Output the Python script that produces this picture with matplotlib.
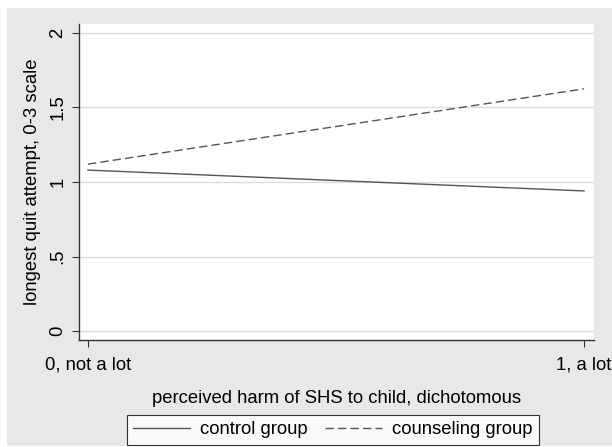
import matplotlib
matplotlib.use("Agg")
import matplotlib.pyplot as plt

plt.rcParams['font.family'] = ['Liberation Sans', 'DejaVu Sans']

# data
x_vals = [0, 1]
x_ticklabels = ["0, not a lot", "1, a lot"]
control_group = [1.08, 0.94]
counseling_group = [1.12, 1.625]
y_ticks = [0, 0.5, 1, 1.5, 2]
y_ticklabels = ["0", ".5", "1", "1.5", "2"]

fs = 13.3

fig = plt.figure(figsize=(6.12, 4.47), dpi=100)
fig.patch.set_facecolor('white')
# gray stata-style background panel
bg = plt.Rectangle((7 / 612, 1 - 446 / 447), 605 / 612, 438 / 447,
                   transform=fig.transFigure, facecolor='#e8e8ea',
                   edgecolor='none', zorder=-10)
fig.patches.append(bg)

ax = fig.add_axes([79 / 612, 1 - 340 / 447, 515 / 612, 316 / 447])
ax.set_facecolor('white')

ax.plot(x_vals, control_group, color='#555555', lw=1.0, label='control group')
ax.plot(x_vals, counseling_group, color='#555555', lw=1.0, ls=(0, (6, 3)),
        label='counseling group')

ax.set_xlim(-0.018, 1.02)
ax.set_ylim(-0.06, 2.06)
ax.set_xticks(x_vals)
ax.set_xticklabels(x_ticklabels, fontsize=fs)
ax.set_yticks(y_ticks)
ax.set_yticklabels(y_ticklabels, fontsize=fs, rotation=90, va='center')
ax.grid(axis='y', color='#dcdcdc', lw=1)
ax.set_axisbelow(True)

for s in ['top', 'right']:
    ax.spines[s].set_visible(False)
for s in ['left', 'bottom']:
    ax.spines[s].set_color('#333333')
    ax.spines[s].set_linewidth(1)
ax.tick_params(colors='#333333', labelcolor='black', length=5, pad=4)
ax.tick_params(axis='x', pad=7)

ax.set_xlabel("perceived harm of SHS to child, dichotomous", fontsize=fs, labelpad=12)
ax.set_ylabel("longest quit attempt, 0-3 scale", fontsize=fs, labelpad=6)

leg = fig.legend(loc='center', bbox_to_anchor=(333 / 612, 1 - 430 / 447), ncol=2,
                 fontsize=fs, frameon=True, fancybox=False, edgecolor='black',
                 handlelength=3.1, columnspacing=0.92, borderpad=0.35,
                 handletextpad=0.54)
leg.get_frame().set_linewidth(0.8)

fig.savefig("out.png", dpi=100)
